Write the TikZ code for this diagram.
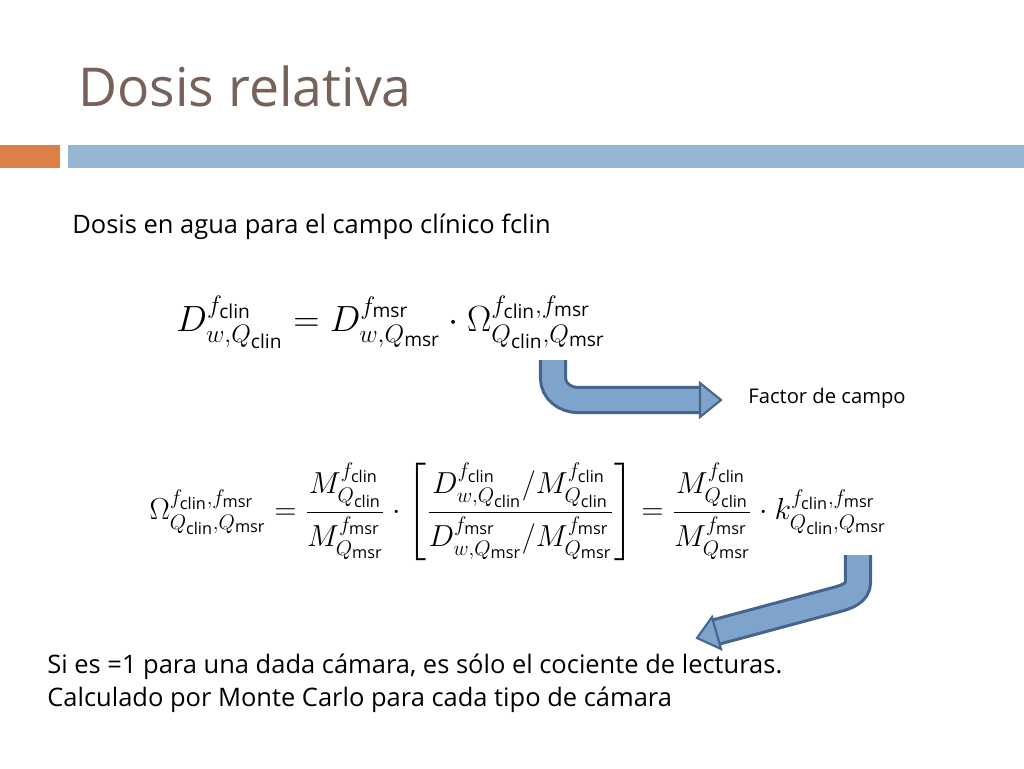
\documentclass[tikz,border=0pt]{standalone}
\usepackage{amsmath,amssymb}
\usepackage{fontspec}
\setmainfont{Open Sans}
\usepackage{tikz}
\definecolor{titlec}{RGB}{118,98,88}
\definecolor{barorange}{RGB}{221,128,71}
\definecolor{barblue}{RGB}{148,182,210}
\definecolor{arrfill}{RGB}{126,164,204}
\definecolor{arrline}{RGB}{70,100,140}
\tikzstyle{txt}=[anchor=west,inner sep=0,font=\fontsize{14.5}{17}\selectfont]
\tikzstyle{eq}=[inner sep=0,font=\fontsize{18.5}{22}\selectfont]
\newcommand{\cl}{\mathrm{clin}}
\newcommand{\ms}{\mathrm{msr}}

\begin{document}
\begin{tikzpicture}[x=0.02cm,y=-0.02cm]

                        \useasboundingbox (0,0) rectangle (1024,768);

                        \node[anchor=west,inner sep=0,text=titlec,font=\fontsize{30.5}{36}\selectfont] (title) at (78,86) {Dosis relativa};
                        \fill[barorange] (0,145) rectangle (60,168);
                        \fill[barblue] (68,145) rectangle (1024,168);

                        \node[txt] (sub) at (72,227) {Dosis en agua para el campo clínico fclin};

                        \node[eq,font=\fontsize{21.8}{26}\selectfont] (eqa) at (391,322) {$D^{f_\cl}_{w,Q_\cl} = D^{f_\ms}_{w,Q_\ms}\cdot\Omega^{f_\cl,f_\ms}_{Q_\cl,Q_\ms}$};

                        \node[txt,font=\fontsize{11.5}{13}\selectfont] (fac) at (748,398) {Factor de campo};

                        \node[eq] (eqb) at (518,512) {$\Omega^{f_\cl,f_\ms}_{Q_\cl,Q_\ms} = \dfrac{M^{f_\cl}_{Q_\cl}}{M^{f_\ms}_{Q_\ms}}\cdot\left[\dfrac{D^{f_\cl}_{w,Q_\cl}/M^{f_\cl}_{Q_\cl}}{D^{f_\ms}_{w,Q_\ms}/M^{f_\ms}_{Q_\ms}}\right] = \dfrac{M^{f_\cl}_{Q_\cl}}{M^{f_\ms}_{Q_\ms}}\cdot k^{f_\cl,f_\ms}_{Q_\cl,Q_\ms}$};

                        \node[txt] (l1) at (47,667) {Si es =1 para una dada cámara, es sólo el cociente de lecturas.};
                        \node[txt] (l2) at (47,700) {Calculado por Monte Carlo para cada tipo de cámara};

                        \coordinate (a1) at (553,360);
                        \coordinate (a1e) at (703,400);
                        \coordinate (a2) at (858,555);
                        \coordinate (a2e) at (716,632);

                        \draw[arrline,line width=16] (a1) -- (553,378) to[out=-90,in=180] (578,400) -- (a1e);
                        \draw[arrfill,line width=12.5] (a1) -- (553,378) to[out=-90,in=180] (578,400) -- (a1e);
                        \draw[arrline,fill=arrfill,line width=1.2] (700,383) -- (721,400) -- (700,417) -- cycle;

                        \draw[arrline,line width=16] (a2) -- (858,582) to[out=-90,in=15] (835,600) -- (a2e);
                        \draw[arrfill,line width=12.5] (a2) -- (858,582) to[out=-90,in=15] (835,600) -- (a2e);
                        \draw[arrline,fill=arrfill,line width=1.2] (712,617) -- (697,638) -- (721,649) -- cycle;

    \end{tikzpicture}
\end{document}
